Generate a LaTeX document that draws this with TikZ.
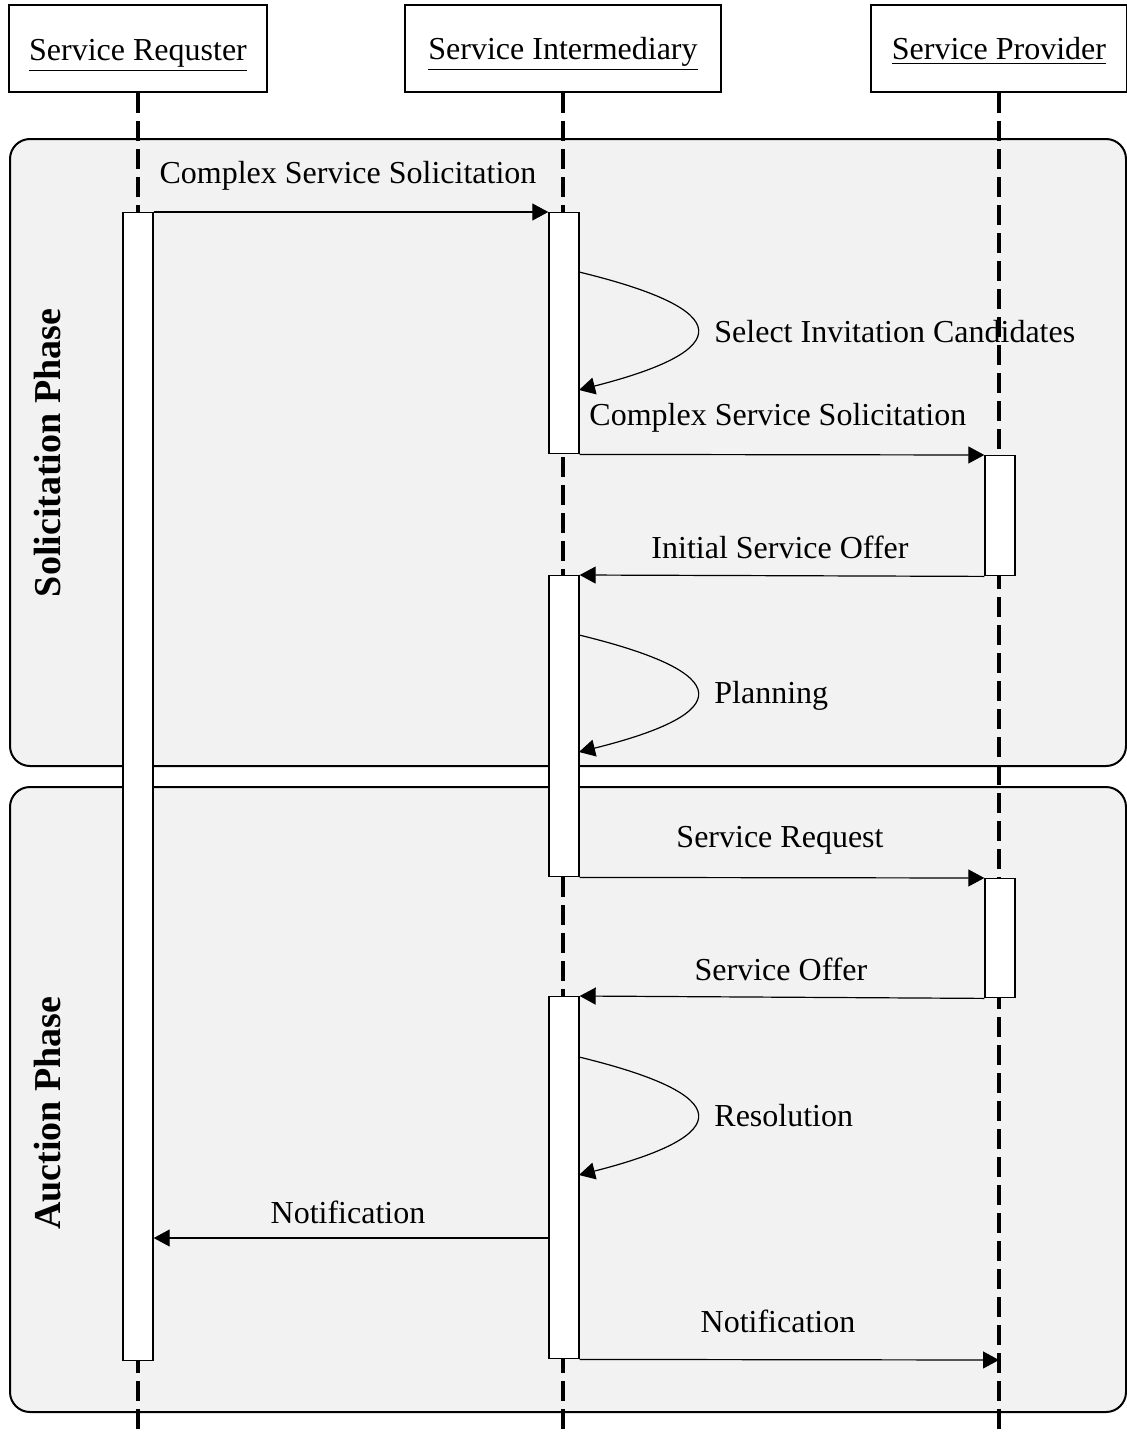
\documentclass[tikz,border=0pt]{standalone}
\usepackage{fontspec}
\setmainfont{Liberation Serif}
\usetikzlibrary{arrows.meta}

\definecolor{phasegray}{HTML}{F2F2F2}

\tikzset{
  actor/.style={draw,line width=1pt,fill=white,minimum height=43.5pt,inner sep=0pt},
  lifeline/.style={line width=2pt,dash pattern=on 10pt off 4pt},
  phasebox/.style={draw,line width=1pt,fill=phasegray,rounded corners=10pt},
  actbar/.style={draw,line width=0.7pt,fill=white,minimum width=15pt,inner sep=0pt,anchor=north},
  msg/.style={line width=0.6pt,-{Triangle[length=8pt,width=8.5pt]}},
  lbl/.style={inner sep=0pt},
  phaselbl/.style={inner sep=0pt,rotate=90,font=\fontsize{19}{22}\selectfont\bfseries},
}

\begin{document}
\begin{tikzpicture}[x=0.5pt,y=-0.5pt,font=\fontsize{16}{19}\selectfont]
\useasboundingbox (0,0) rectangle (1127,1434);

% phases
\draw[phasebox] (10,139) rectangle (1126,766);
\draw[phasebox] (10,787) rectangle (1126,1412);
\node[phaselbl] (solph) at (48,453) {Solicitation Phase};
\node[phaselbl] (aucph) at (48,1113) {Auction Phase};

% actors
\node[actor,minimum width=129pt] (rqh) at (138,48.5) {};
\node[actor,minimum width=158pt] (imh) at (563,48.5) {};
\node[actor,minimum width=128pt] (pvh) at (999,48.5) {};
\node[lbl,anchor=base] (rqt) at (138,61) {\underline{Service Requster}};
\node[lbl,anchor=base] (imt) at (563,60) {\underline{Service Intermediary}};
\node[lbl,anchor=base] (pvt) at (999,60) {\underline{Service Provider}};

% message labels
\node[lbl,anchor=base] (m1) at (348,183) {Complex Service Solicitation};
\node[lbl,anchor=base west] (m2) at (714,342) {Select Invitation Candidates};
\node[lbl,anchor=base west] (m3) at (589,425) {Complex Service Solicitation};
\node[lbl,anchor=base] (m4) at (780,558) {Initial Service Offer};
\node[lbl,anchor=base west] (m5) at (714,703) {Planning};
\node[lbl,anchor=base] (m6) at (780,847) {Service Request};
\node[lbl,anchor=base] (m7) at (781,980) {Service Offer};
\node[lbl,anchor=base west] (m8) at (714,1126) {Resolution};
\node[lbl,anchor=base] (m9) at (348,1223) {Notification};
\node[lbl,anchor=base] (m10) at (778,1332) {Notification};

% lifelines
\coordinate (bot) at (0,1434);
\draw[lifeline] (rqh.south) -- (rqh.south |- bot);
\draw[lifeline] (imh.south) -- (imh.south |- bot);
\draw[lifeline] (pvh.south) -- (pvh.south |- bot);

% activation bars
\node[actbar,minimum height=574pt] (rq) at (138,212) {};
\node[actbar,minimum height=120.5pt] (im1) at (564,212) {};
\node[actbar,minimum height=150.5pt] (im2) at (564,575) {};
\node[actbar,minimum height=181pt] (im3) at (564,996) {};
\node[actbar,minimum height=60pt] (pv1) at (1000,455) {};
\node[actbar,minimum height=59.5pt] (pv2) at (1000,878) {};

% messages
\draw[msg] (rq.north east) -- (im1.north west);
\coordinate (l1a) at (579,272);
\coordinate (l1b) at (579,390);
\draw[msg] (l1a) .. controls (736,310) and (736,350) .. (l1b);
\draw[msg] (im1.south east) -- (pv1.north west);
\draw[msg] (pv1.south west) -- (im2.north east);
\coordinate (l2a) at (579,635);
\coordinate (l2b) at (579,752);
\draw[msg] (l2a) .. controls (736,673) and (736,713) .. (l2b);
\draw[msg] (im2.south east) -- (pv2.north west);
\draw[msg] (pv2.south west) -- (im3.north east);
\coordinate (l3a) at (579,1057);
\coordinate (l3b) at (579,1175);
\draw[msg] (l3a) .. controls (736,1095) and (736,1135) .. (l3b);
\coordinate (n1) at (549,1238);
\draw[msg] (n1) -- (rq.east |- n1);
\coordinate (n2) at (999,1360);
\draw[msg] (im3.south east) -- (n2);
\end{tikzpicture}
\end{document}
